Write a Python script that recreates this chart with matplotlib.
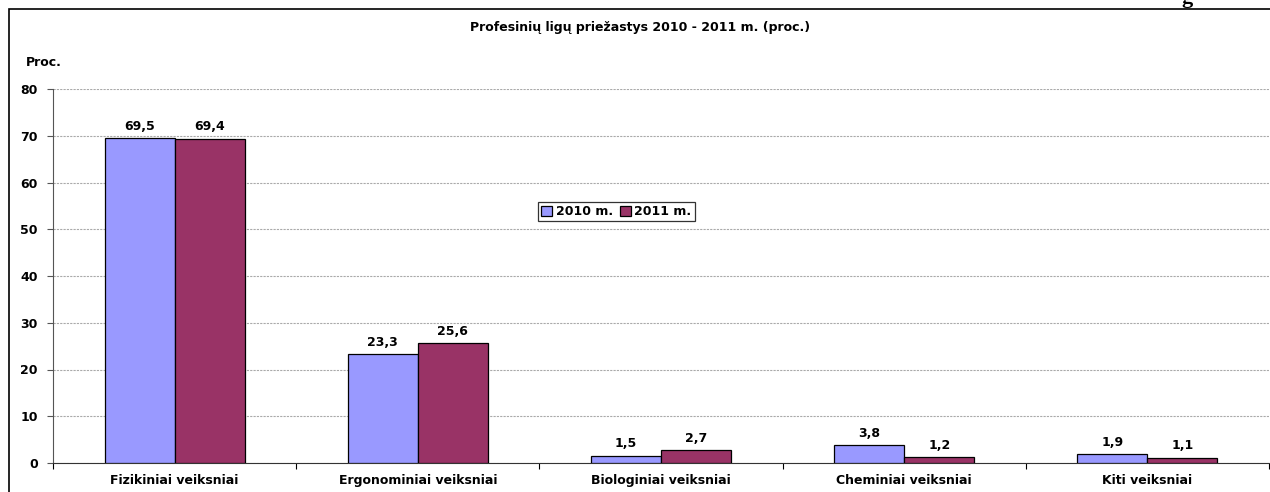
import numpy as np
import matplotlib
matplotlib.use("Agg")
import matplotlib.pyplot as plt
from matplotlib.patches import Rectangle

categories = ["Fizikiniai veiksniai", "Ergonominiai veiksniai", "Biologiniai veiksniai",
              "Cheminiai veiksniai", "Kiti veiksniai"]
values_2010 = [69.5, 23.3, 1.5, 3.8, 1.9]
values_2011 = [69.4, 25.6, 2.7, 1.2, 1.1]
series_labels = ["2010 m.", "2011 m."]
colors = ["#9999FF", "#993366"]

plt.rcParams["font.family"] = ["DejaVu Sans"]
plt.rcParams["font.weight"] = "bold"
FS = 9

fig = plt.figure(figsize=(12.7, 4.92), dpi=100)
ax = fig.add_axes([53 / 1270, 1 - 463 / 492, 1216 / 1270, (463 - 89) / 492])

x = np.arange(len(categories))
w = 0.288
bars1 = ax.bar(x - w / 2, values_2010, w, color=colors[0], edgecolor="black",
               linewidth=0.9, label=series_labels[0], zorder=3)
bars2 = ax.bar(x + w / 2, values_2011, w, color=colors[1], edgecolor="black",
               linewidth=0.9, label=series_labels[1], zorder=3)

for bars in (bars1, bars2):
    for b in bars:
        h = b.get_height()
        ax.annotate(f"{h:.1f}".replace(".", ","), (b.get_x() + b.get_width() / 2, h),
                    xytext=(0, 4), textcoords="offset points", ha="center", va="bottom",
                    fontsize=FS, fontweight="bold")

ax.set_xlim(-0.5, len(categories) - 0.5)
ax.set_ylim(0, 80)
ax.set_yticks(np.arange(0, 81, 10))
ax.tick_params(axis="y", labelsize=FS, length=4, width=0.8, color="#555555", pad=7)
ax.set_xticks(np.arange(-0.5, len(categories), 1.0))
ax.set_xticklabels([])
ax.set_xticks(x, minor=True)
ax.set_xticklabels(categories, minor=True, fontsize=FS, fontweight="bold")
ax.tick_params(axis="x", which="minor", length=0, pad=8)
ax.tick_params(axis="x", which="major", length=4, width=0.8)

ax.yaxis.grid(True, color="#aaaaaa", linestyle=(0, (2, 1)), linewidth=0.8, zorder=0)
for s in ["top", "right"]:
    ax.spines[s].set_visible(False)
ax.spines["left"].set_color("#555555")
ax.spines["bottom"].set_color("#333333")

leg = ax.legend(loc="upper left", ncol=2, fontsize=FS, frameon=True,
                fancybox=False, edgecolor="black", handlelength=0.9, handleheight=0.9,
                handletextpad=0.3, columnspacing=0.5, borderpad=0.25, borderaxespad=0)
leg.set_bbox_to_anchor((538 / 1270, 1 - 202 / 492), transform=fig.transFigure)
leg.get_frame().set_linewidth(0.9)

fig.text(640 / 1270, 1 - 28 / 492, "Profesinių ligų priežastys 2010 - 2011 m. (proc.)",
         ha="center", va="center", fontsize=FS, fontweight="bold")
fig.text(26 / 1270, 1 - 63 / 492, "Proc.", ha="left", va="center",
         fontsize=FS, fontweight="bold")

fig.patches.append(Rectangle((9 / 1270, -0.1), 1.2, 1.1 - 9 / 492, transform=fig.transFigure,
                             fill=False, edgecolor="black", linewidth=1.2))
# partial letter from the surrounding document, cut off at the top edge
fig.text(1187 / 1270, 1 - 3 / 492, "g", ha="center", va="baseline",
         fontsize=16, family="Liberation Serif", fontweight="bold")

fig.savefig("out.png", dpi=100)
